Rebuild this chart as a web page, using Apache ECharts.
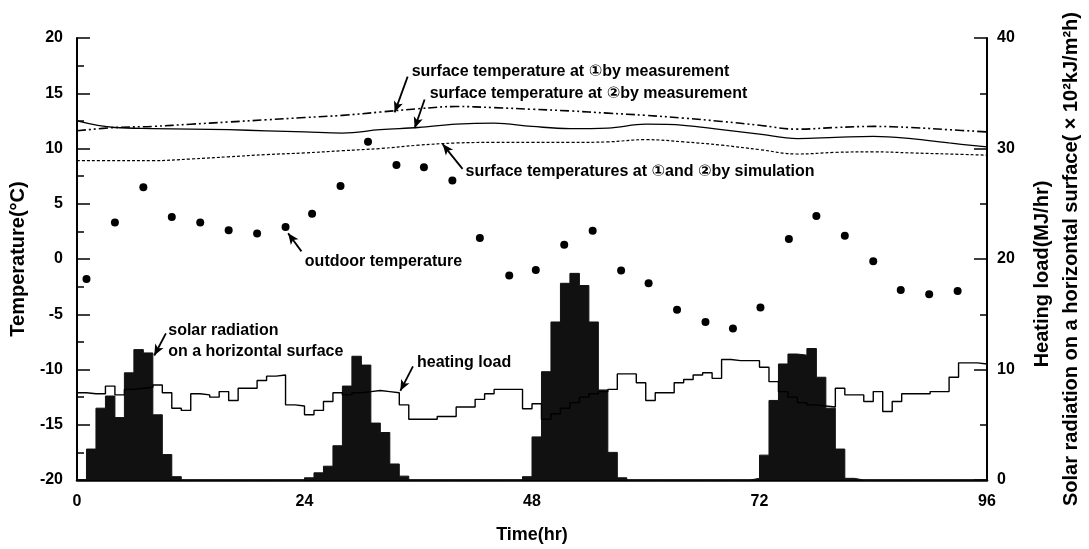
<!DOCTYPE html>
<html>
<head>
<meta charset="utf-8">
<script src="https://cdn.jsdelivr.net/npm/echarts@6/dist/echarts.min.js"></script>
<style>
  html, body { margin: 0; padding: 0; background: #fff; }
  #chart { width: 1089px; height: 549px; }
</style>
</head>
<body>
<div id="chart"></div>
<script>
// hourly heating load (MJ/hr), hour 0..95
var heatingLoad = [
  7.9, 7.8, 7.8, 8.5, 7.7, 8.2, 8.3, 8.4, 8.6, 7.9,
  6.5, 6.3, 7.8, 7.7, 7.5, 8.0, 7.2, 8.3, 8.3, 9.0,
  9.4, 9.5, 6.8, 6.7, 5.9, 6.3, 7.1, 7.9, 7.7, 7.9,
  8.0, 8.1, 8.0, 7.9, 6.8, 5.5, 5.5, 5.5, 5.75, 5.75,
  6.6, 6.6, 7.3, 7.8, 8.2, 8.2, 8.2, 6.45, 6.9, 5.5,
  6.0, 6.5, 7.0, 7.5, 7.8, 8.0, 8.2, 9.6, 9.6, 8.8,
  7.2, 7.9, 7.9, 8.8, 9.1, 9.5, 9.7, 9.2, 10.9, 10.8,
  10.8, 10.8, 10.2, 8.9, 8.0, 7.5, 7.0, 6.8, 6.7, 6.6,
  8.3, 7.7, 7.7, 7.1, 8.0, 6.2, 7.1, 7.8, 7.8, 7.8,
  8.0, 8.0, 9.3, 10.6, 10.6, 10.5
];

// hourly solar radiation on a horizontal surface (x 10^2 kJ/m2h), hour 0..95
var solar = [
  0, 2.8, 6.5, 7.6, 5.65, 9.7, 11.8, 11.5, 5.9, 2.3,
  0.3, 0, 0, 0, 0, 0, 0, 0, 0, 0,
  0, 0, 0, 0, 0.2, 0.65, 1.25, 3.1, 8.5, 11.2,
  10.4, 5.15, 4.3, 1.45, 0.35, 0, 0, 0, 0, 0,
  0, 0, 0, 0, 0, 0, 0, 0.3, 3.9, 9.8,
  14.3, 17.8, 18.7, 17.6, 14.3, 8.15, 2.5, 0.2, 0, 0,
  0, 0, 0, 0, 0, 0, 0, 0, 0, 0,
  0, 0.15, 2.25, 7.2, 10.5, 11.4, 11.3, 11.9, 9.3, 6.5,
  2.8, 0.15, 0, 0, 0, 0, 0, 0, 0, 0,
  0, 0, 0, 0, 0, 0
];

// outdoor temperature readings
var outdoorHours = [1, 4, 7, 10, 13, 16, 19, 22, 24.8, 27.8, 30.7, 33.7, 36.6, 39.6, 42.5, 45.6,
  48.4, 51.4, 54.4, 57.4, 60.3, 63.3, 66.3, 69.2, 72.1, 75.1, 78, 81, 84, 86.9, 89.9, 92.9];
var outdoorTemp = [-1.8, 3.3, 6.5, 3.8, 3.3, 2.6, 2.3, 2.9, 4.1, 6.6, 10.6, 8.5, 8.3, 7.1, 1.9, -1.5,
  -1.0, 1.3, 2.55, -1.05, -2.2, -4.6, -5.7, -6.3, -4.4, 1.8, 3.9, 2.1, -0.2, -2.8, -3.2, -2.9];

// surface temperatures, read every 4 hours
var surfHours = [0, 4, 8, 12, 16, 20, 24, 28, 32, 36, 40, 44, 48, 52, 56, 60, 64, 68, 72, 76, 80, 84, 88, 92, 96];
var surfMeas1 = [11.6, 11.9, 12.0, 12.2, 12.4, 12.6, 12.8, 13.0, 13.3, 13.6, 13.8, 13.7, 13.55, 13.4, 13.2, 13.0, 12.75, 12.45, 12.1, 11.75, 11.9, 12.0, 11.9, 11.7, 11.5];
var surfMeas2 = [12.5, 11.9, 11.8, 11.75, 11.7, 11.6, 11.5, 11.4, 11.7, 11.9, 12.2, 12.3, 12.0, 11.8, 11.85, 12.2, 12.1, 11.7, 11.3, 10.9, 11.0, 11.1, 10.9, 10.5, 10.15];
var surfSim = [8.9, 8.9, 8.9, 9.05, 9.25, 9.45, 9.6, 9.8, 10.0, 10.3, 10.5, 10.55, 10.55, 10.55, 10.6, 10.8, 10.6, 10.3, 9.9, 9.5, 9.65, 9.7, 9.6, 9.5, 9.4];

// annotations, in (hour, temperature) units of the left axis
var notes = [
  { text: 'surface temperature at \u2460by measurement', at: [35.3, 16.95], from: [34.88, 16.5], to: [33.51, 13.27] },
  { text: 'surface temperature at \u2461by measurement', at: [37.2, 14.95], from: [36.67, 14.44], to: [35.62, 11.84] },
  { text: 'surface temperatures at \u2460and \u2461by simulation', at: [40.99, 7.87], from: [40.67, 8.16], to: [38.57, 10.4] },
  { text: 'outdoor temperature', at: [24.03, -0.21], from: [23.68, 0.69], to: [22.27, 2.33] },
  { text: 'solar radiation\non a horizontal surface', at: [9.62, -7.39], from: [9.38, -6.73], to: [8.15, -8.73] },
  { text: 'heating load', at: [35.86, -9.33], from: [35.44, -9.71], to: [34.11, -11.93] }
];

var FONT = '"Liberation Sans", Arial, "DejaVu Sans", sans-serif';

function pairs(xs, ys) {
  return xs.map(function (x, i) { return [x, ys[i]]; });
}
// hourly values drawn as steps: each value holds from its hour to the next
function hourly(vals) {
  var d = vals.map(function (v, i) { return [i, v]; });
  d.push([vals.length, vals[vals.length - 1]]);
  return d;
}

var axisText = { color: '#000', fontFamily: FONT, fontSize: 16, fontWeight: 'bold' };
function nameText(size, pad) {
  return { color: '#000', fontFamily: FONT, fontSize: size, fontWeight: 'bold', padding: pad || 0 };
}

var option = {
  animation: false,
  backgroundColor: '#fff',
  grid: { left: 77, top: 38, width: 911, height: 446 },
  xAxis: {
    type: 'value', min: 0, max: 96, interval: 24,
    name: 'Time(hr)', nameLocation: 'middle', nameGap: 46, nameTextStyle: nameText(18),
    axisLine: { onZero: false, lineStyle: { color: '#000', width: 2.5 } },
    axisTick: { show: false },
    splitLine: { show: false },
    axisLabel: Object.assign({ margin: 14 }, axisText)
  },
  yAxis: [{
    type: 'value', position: 'left', min: -20, max: 20, interval: 5,
    name: 'Temperature(\u00B0C)', nameLocation: 'middle', nameGap: 48, nameTextStyle: nameText(20),
    axisLine: { show: true, onZero: false, lineStyle: { color: '#000', width: 2 } },
    axisTick: { show: true, inside: true, length: 13, lineStyle: { color: '#000', width: 1.5 } },
    minorTick: { show: true, splitNumber: 2, length: 7, lineStyle: { color: '#000', width: 1.5 } },
    splitLine: { show: false },
    axisLabel: Object.assign({ margin: 14 }, axisText)
  }, {
    type: 'value', position: 'right', min: 0, max: 40, interval: 10,
    name: 'Heating load(MJ/hr)', nameLocation: 'middle', nameGap: 45,
    nameTextStyle: nameText(20, [0, 30, 0, 0]),
    axisLine: { show: true, onZero: false, lineStyle: { color: '#000', width: 2 } },
    axisTick: { show: true, inside: true, length: 13, lineStyle: { color: '#000', width: 1.5 } },
    minorTick: { show: true, splitNumber: 2, length: 7, lineStyle: { color: '#000', width: 1.5 } },
    splitLine: { show: false },
    axisLabel: Object.assign({ margin: 10 }, axisText)
  }, {
    type: 'value', position: 'right', min: 0, max: 40, interval: 10,
    name: 'Solar radiation on a horizontal surface( \u00D7 10\u00B2kJ/m\u00B2h)',
    nameLocation: 'middle', nameGap: 74, nameTextStyle: nameText(20),
    axisLine: { show: false }, axisTick: { show: false },
    axisLabel: { show: false }, splitLine: { show: false }
  }],
  series: [{
    name: 'solar', type: 'line', yAxisIndex: 1, step: 'end',
    data: hourly(solar), showSymbol: false,
    lineStyle: { color: '#111', width: 1 },
    areaStyle: { color: '#111', opacity: 1 },
    z: 2
  }, {
    name: 'load', type: 'line', yAxisIndex: 1, step: 'end',
    data: hourly(heatingLoad), showSymbol: false,
    lineStyle: { color: '#000', width: 1.4 },
    z: 3
  }, {
    name: 'meas1', type: 'line', yAxisIndex: 0, smooth: 0.4,
    data: pairs(surfHours, surfMeas1), showSymbol: false,
    lineStyle: { color: '#000', width: 1.6, type: [9, 3, 2, 3, 2, 3] }
  }, {
    name: 'meas2', type: 'line', yAxisIndex: 0, smooth: 0.4,
    data: pairs(surfHours, surfMeas2), showSymbol: false,
    lineStyle: { color: '#000', width: 1.3 }
  }, {
    name: 'sim', type: 'line', yAxisIndex: 0, smooth: 0.4,
    data: pairs(surfHours, surfSim), showSymbol: false,
    lineStyle: { color: '#000', width: 1.2, type: [3, 2] }
  }, {
    name: 'outdoor', type: 'scatter', yAxisIndex: 0,
    data: pairs(outdoorHours, outdoorTemp),
    symbolSize: 8,
    itemStyle: { color: '#000', opacity: 1 },
    z: 5,
    markLine: {
      silent: true,
      symbol: ['none', 'arrow'],
      symbolSize: [7, 11],
      label: { show: false },
      lineStyle: { color: '#000', width: 1.8, type: 'solid', opacity: 1 },
      data: notes.map(function (n) {
        return [{ coord: n.from }, { coord: n.to }];
      })
    },
    markPoint: {
      silent: true,
      symbol: 'circle',
      symbolSize: 0.1,
      itemStyle: { color: 'rgba(0,0,0,0)' },
      label: {
        show: true, position: 'right', distance: 0,
        color: '#000', fontFamily: FONT, fontSize: 16, fontWeight: 'bold',
        lineHeight: 21, align: 'left',
        formatter: function (p) { return p.name; }
      },
      data: notes.map(function (n) {
        return { name: n.text, coord: n.at };
      })
    }
  }]
};

var chart = echarts.init(document.getElementById('chart'));
chart.setOption(option);
window.onresize = chart.resize;
</script>
</body>
</html>
